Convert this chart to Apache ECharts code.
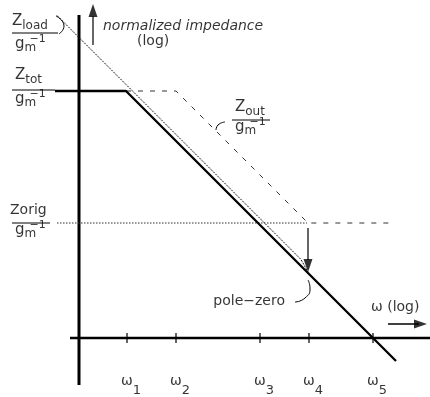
<!DOCTYPE html>
<html><head><meta charset="utf-8">
<script src="https://cdn.jsdelivr.net/npm/echarts@6/dist/echarts.min.js"></script>
<style>html,body{margin:0;padding:0;background:#fff}#c{width:430px;height:397px}</style>
</head><body><div id="c"></div>
<script>
// All coordinates are in decades (log10 units) relative to the axes origin.
const omegaTicks = [0.48, 0.97, 1.81, 2.30, 2.94];
const omegaNames = ['1', '2', '3', '4', '5'];
const zTot = [[-0.24, 2.47], [0.47, 2.47], [3.17, -0.23]];
const zOut = [[0.47, 2.47], [0.97, 2.47], [2.29, 1.15], [3.16, 1.15]];
const zLoad = [[-0.22, 3.225], [2.22, 0.785], [2.29, 0.66]];
const zOrig = [[-0.22, 1.15], [2.28, 1.15]];
const impedanceAxis = [[0, -0.47], [0, 3.23]];
const omegaAxis = [[-0.09, 0], [3.51, 0]];
const fracLoad = [[-0.67, 3.05], [-0.21, 3.05]];
const fracTot = [[-0.67, 2.48], [-0.24, 2.48]];
const fracOrig = [[-0.67, 1.15], [-0.29, 1.15]];
const fracOut = [[1.53, 2.18], [1.91, 2.18]];
const leadLoad = [[-0.23, 3.22], [-0.15, 3.12], [-0.20, 3.04]];
const leadOut = [[1.46, 2.16], [1.39, 2.13], [1.37, 2.08]];
const leadPZ = [[2.16, 0.36], [2.26, 0.40], [2.31, 0.50], [2.29, 0.58]];
const upArrow = [[0.14, 2.93], [0.14, 3.22]];
const rightArrow = [[3.09, 0.14], [3.40, 0.14]];
const downArrow = [[2.29, 1.10], [2.29, 0.78]];
const arrowHeads = [[0.14, 3.275, 0], [3.415, 0.14, -90], [2.29, 0.725, 180]];

const FF = 'DejaVu Sans';
const C = '#000';
const rs = (o) => Object.assign({fontFamily: FF, color: C}, o);
const rich = {
  z: rs({fontSize: 15}),
  zs: rs({fontSize: 14}),
  sb: rs({fontSize: 12, padding: [10, 0, 0, 0]}),
  g: rs({fontSize: 15}),
  m: rs({fontSize: 12, padding: [7, 0, 0, 0], width: 5}),
  sp: rs({fontSize: 11, padding: [0, 0, 10, 0]}),
  w: rs({fontSize: 14}),
  d: rs({fontSize: 13, padding: [20, 0, 0, 0]}),
  t: rs({fontSize: 14}),
  it: rs({fontSize: 14, fontStyle: 'italic'})
};
const denom = '{g|g}{m|m}{sp|−1}';
function txt(x, y, text, align) {
  return {value: [x, y], label: {show: true, position: 'inside', formatter: text,
    align: align || 'left', verticalAlign: 'middle', rich: rich}};
}
const texts = [
  txt(0.24, 3.12, '{it|normalized impedance}'),
  txt(0.58, 2.97, '{t|(log)}'),
  txt(-0.67, 3.17, '{z|Z}{sb|load}'),
  txt(-0.64, 2.94, denom),
  txt(-0.64, 2.63, '{z|Z}{sb|tot}'),
  txt(-0.64, 2.39, denom),
  txt(-0.69, 1.28, '{zs|Zorig}'),
  txt(-0.64, 1.075, denom),
  txt(1.56, 2.31, '{z|Z}{sb|out}'),
  txt(1.56, 2.105, denom),
  txt(2.06, 0.37, '{t|pole−zero}', 'right'),
  txt(2.92, 0.31, '{t|ω (log)}')
];
omegaTicks.forEach((v, i) => texts.push({value: [v, 0], label: {show: true, position: 'inside',
  formatter: '{w|ω}{d|' + omegaNames[i] + '}', align: 'left', verticalAlign: 'middle',
  offset: [-6, 43], rich: rich}}));

function line(data, width, type, color, smooth) {
  return {type: 'line', data: data, symbol: 'none', silent: true, smooth: smooth || false,
    lineStyle: {width: width, type: type || 'solid', color: color || C, cap: 'butt'}};
}
const series = [
  line(impedanceAxis, 3),
  line(omegaAxis, 2.5),
  line(zOrig, 1, [1.5, 1.5], '#333'),
  line(zOut, 1, [5, 7], '#333'),
  line(zLoad, 1, [2, 1.2], '#111'),
  line(zTot, 2.3),
  line(fracLoad, 1), line(fracTot, 1), line(fracOrig, 1), line(fracOut, 1),
  line(leadLoad, 1, 'solid', C, 0.6), line(leadOut, 1, 'solid', C, 0.6), line(leadPZ, 1, 'solid', C, 0.6),
  line(upArrow, 1.2), line(rightArrow, 1.5), line(downArrow, 1.2),
  {type: 'scatter', silent: true, data: arrowHeads.map(a => ({value: [a[0], a[1]], symbolRotate: a[2]})),
    symbol: 'triangle', symbolSize: [9, 13], itemStyle: {color: C}},
  {type: 'scatter', silent: true, data: omegaTicks.map(v => [v, 0]), symbol: 'rect',
    symbolSize: [1.5, 10], itemStyle: {color: C}},
  {type: 'scatter', silent: true, data: texts, symbolSize: 1, itemStyle: {color: 'rgba(0,0,0,0)'}}
];
const chart = echarts.init(document.getElementById('c'));
chart.setOption({
  animation: false,
  grid: {left: 0, right: 0, top: 0, bottom: 0},
  xAxis: {type: 'value', min: -0.79, max: 3.51, show: false},
  yAxis: {type: 'value', min: -0.59, max: 3.38, show: false},
  series: series
});
</script></body></html>
